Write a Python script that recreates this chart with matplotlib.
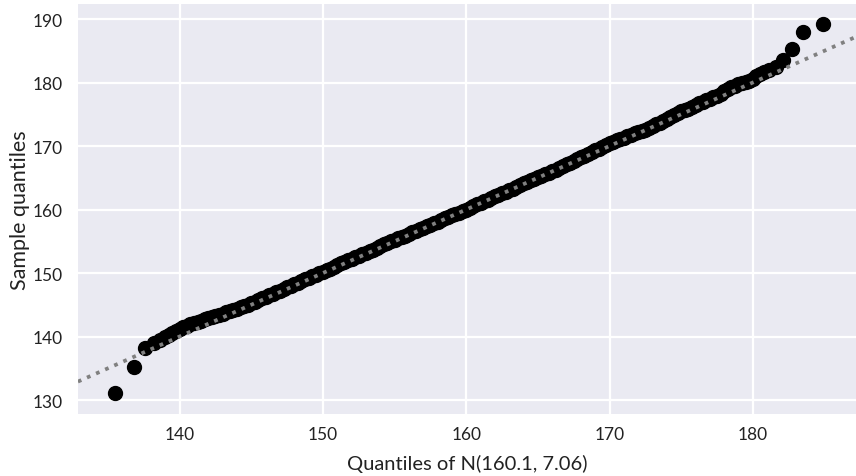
import matplotlib
matplotlib.use("Agg")
import matplotlib.pyplot as plt

# theoretical quantiles of N(160.1, 7.06) vs sorted sample
theor = [135.5, 136.8, 137.6, 138.2, 138.6,
         139.0, 139.25, 139.5, 139.75, 140.0, 140.25, 140.5, 140.75,
         141.0, 141.25, 141.5, 141.75, 142.0, 142.25, 142.5, 142.75,
         143.0, 143.25, 143.5, 143.75, 144.0, 144.25, 144.5, 144.75,
         145.0, 145.25, 145.5, 145.75, 146.0, 146.25, 146.5, 146.75,
         147.0, 147.25, 147.5, 147.75, 148.0, 148.25, 148.5, 148.75,
         149.0, 149.25, 149.5, 149.75, 150.0, 150.25, 150.5, 150.75,
         151.0, 151.25, 151.5, 151.75, 152.0, 152.25, 152.5, 152.75,
         153.0, 153.25, 153.5, 153.75, 154.0, 154.25, 154.5, 154.75,
         155.0, 155.25, 155.5, 155.75, 156.0, 156.25, 156.5, 156.75,
         157.0, 157.25, 157.5, 157.75, 158.0, 158.25, 158.5, 158.75,
         159.0, 159.25, 159.5, 159.75, 160.0, 160.25, 160.5, 160.75,
         161.0, 161.25, 161.5, 161.75, 162.0, 162.25, 162.5, 162.75,
         163.0, 163.25, 163.5, 163.75, 164.0, 164.25, 164.5, 164.75,
         165.0, 165.25, 165.5, 165.75, 166.0, 166.25, 166.5, 166.75,
         167.0, 167.25, 167.5, 167.75, 168.0, 168.25, 168.5, 168.75,
         169.0, 169.25, 169.5, 169.75, 170.0, 170.25, 170.5, 170.75,
         171.0, 171.25, 171.5, 171.75, 172.0, 172.25, 172.5, 172.75,
         173.0, 173.25, 173.5, 173.75, 174.0, 174.25, 174.5, 174.75,
         175.0, 175.25, 175.5, 175.75, 176.0, 176.25, 176.5, 176.75,
         177.0, 177.25, 177.5, 177.75, 178.0, 178.25, 178.5, 178.75,
         179.0, 179.25, 179.5, 179.75, 180.0, 180.25, 180.5, 180.75,
         181.1, 181.6, 182.1, 182.7, 183.5, 184.9]
sample = [131.1, 135.2, 138.2, 139.0, 139.5,
          140.0, 140.3, 140.6, 140.9, 141.2, 141.5, 141.7, 141.9,
          142.1, 142.3, 142.5, 142.7, 142.9, 143.1, 143.3, 143.4,
          143.6, 143.8, 144.0, 144.2, 144.4, 144.6, 144.8, 145.0,
          145.2, 145.5, 145.7, 146.0, 146.2, 146.5, 146.7, 147.0,
          147.2, 147.5, 147.8, 148.0, 148.3, 148.5, 148.7, 149.0,
          149.2, 149.5, 149.7, 150.0, 150.2, 150.5, 150.7, 151.0,
          151.2, 151.5, 151.7, 152.0, 152.2, 152.5, 152.7, 153.0,
          153.2, 153.5, 153.7, 154.0, 154.2, 154.5, 154.7, 155.0,
          155.2, 155.5, 155.7, 155.9, 156.2, 156.4, 156.6, 156.9,
          157.1, 157.4, 157.6, 157.9, 158.1, 158.4, 158.6, 158.8,
          159.1, 159.3, 159.5, 159.8, 160.0, 160.3, 160.5, 160.8,
          161.0, 161.3, 161.5, 161.8, 162.1, 162.3, 162.6, 162.8,
          163.1, 163.3, 163.6, 163.8, 164.1, 164.3, 164.6, 164.8,
          165.1, 165.3, 165.6, 165.8, 166.1, 166.3, 166.6, 166.9,
          167.2, 167.4, 167.7, 167.9, 168.2, 168.5, 168.8, 169.0,
          169.3, 169.6, 169.9, 170.2, 170.5, 170.7, 170.9, 171.1,
          171.3, 171.5, 171.7, 172.0, 172.2, 172.4, 172.6, 172.9,
          173.2, 173.4, 173.7, 174.0, 174.3, 174.6, 174.9, 175.2,
          175.5, 175.7, 175.9, 176.2, 176.4, 176.7, 176.9, 177.2,
          177.4, 177.7, 177.9, 178.2, 178.6, 179.0, 179.3, 179.5,
          179.7, 179.9, 180.1, 180.3, 180.6, 181.0, 181.3, 181.6,
          182.0, 182.5, 183.6, 185.3, 187.9, 189.2]
mu = 160.1
x_ticks = [140, 150, 160, 170, 180]
y_ticks = [130, 140, 150, 160, 170, 180, 190]

plt.rcParams['font.family'] = ['Lato', 'DejaVu Sans']

fig = plt.figure(figsize=(8.56, 4.77), dpi=100)
ax = fig.add_axes([0.091, 0.130, 0.909, 0.860])
ax.set_facecolor("#EAEAF2")
for s in ax.spines.values():
    s.set_visible(False)
ax.grid(True, color="white", linewidth=1.6)
ax.set_axisbelow(True)

ax.plot(theor, sample, "o", color="black", markersize=10, zorder=2)
ax.axline((mu, mu), slope=1, linestyle=":", color="gray", linewidth=2.7, zorder=3)

ax.set_xlim(132.9, 187.2)
ax.set_ylim(127.8, 192.4)
ax.set_xticks(x_ticks)
ax.set_yticks(y_ticks)
ax.tick_params(length=0, labelsize=12.5, colors="#222222")
ax.tick_params(axis="x", pad=9)
ax.tick_params(axis="y", pad=11)
ax.set_xlabel("Quantiles of N(160.1, 7.06)", fontsize=14.5, color="#222222", labelpad=8)
ax.set_ylabel("Sample quantiles", fontsize=15.5, color="#222222", labelpad=2)

fig.savefig("out.png", dpi=100)
